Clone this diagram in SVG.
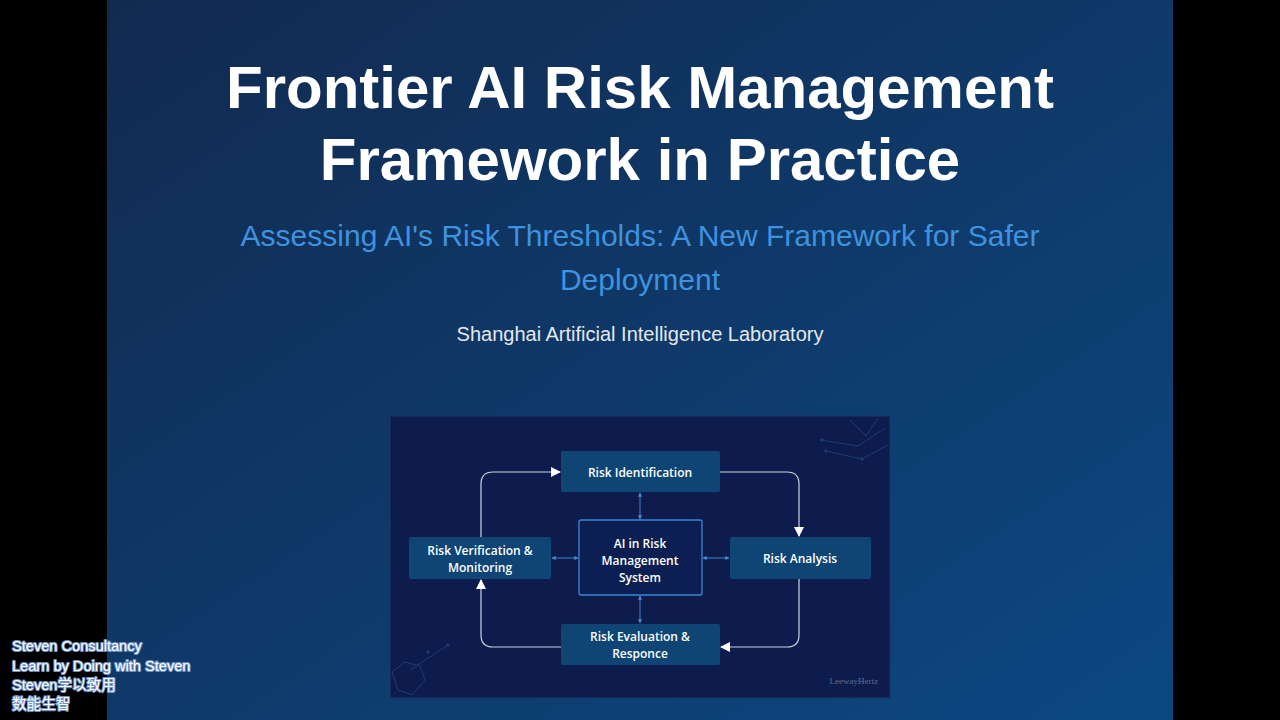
<svg xmlns="http://www.w3.org/2000/svg" width="1280" height="720" viewBox="0 0 1280 720">
  <defs>
    <linearGradient id="slideBg" x1="0" y1="0" x2="1" y2="1">
      <stop offset="0" stop-color="#122a50"/>
      <stop offset="1" stop-color="#0b4882"/>
    </linearGradient>
    <marker id="tri" viewBox="0 0 10 10" refX="9" refY="5" markerWidth="10" markerHeight="10" markerUnits="userSpaceOnUse" orient="auto">
      <path d="M0,0 L10,5 L0,10 Z" fill="#ffffff"/>
    </marker>
    <marker id="small" viewBox="0 0 6 6" refX="5.5" refY="3" markerWidth="4" markerHeight="4" markerUnits="userSpaceOnUse" orient="auto-start-reverse">
      <path d="M0,0 L6,3 L0,6 Z" fill="#4a8fd6"/>
    </marker>
    <style>
      .title { font-family: "Liberation Sans", Arial, sans-serif; font-weight: bold; font-size: 60px; fill: #ffffff; }
      .sub { font-family: "Liberation Sans", Arial, sans-serif; font-size: 30px; fill: #3e92de; }
      .org { font-family: "Liberation Sans", Arial, sans-serif; font-size: 20px; fill: #e3e8ef; }
      .node { fill: #0e4574; }
      .center { fill: #0c1f52; stroke: #3a86d4; stroke-width: 1.3; }
      .ntext { font-family: "Open Sans", "Noto Sans", sans-serif; font-weight: 600; font-size: 12px; fill: #ffffff; text-anchor: middle; }
      .flow { fill: none; stroke: #c9d2e3; stroke-width: 1.2; }
      .link { fill: none; stroke: #3f82c8; stroke-width: 1; }
      .wm { font-family: "Liberation Sans", Arial, "Noto Sans CJK SC", sans-serif; font-size: 14.6px; fill: #ffffff; stroke: #6d8fc4; stroke-width: 2.2; paint-order: stroke; stroke-linejoin: round; }
      .deco { fill: none; stroke: #2b4a86; stroke-width: 1; opacity: 0.7; }
    </style>
  </defs>

  <rect x="0" y="0" width="1280" height="720" fill="#000000"/>
  <rect x="107" y="0" width="1066" height="720" fill="url(#slideBg)"/>

  <g id="titles">
    <text class="title" x="640" y="108" text-anchor="middle">Frontier AI Risk Management</text>
    <text class="title" x="640" y="180" text-anchor="middle">Framework in Practice</text>
    <text class="sub" x="640" y="246" text-anchor="middle">Assessing AI's Risk Thresholds: A New Framework for Safer</text>
    <text class="sub" x="640" y="290" text-anchor="middle">Deployment</text>
    <text class="org" x="640" y="341" text-anchor="middle">Shanghai Artificial Intelligence Laboratory</text>
  </g>

  <g id="image-panel">
    <rect x="390" y="416" width="500" height="282" fill="#0d1c4c" stroke="#1d3566" stroke-width="1"/>
    <g class="deco">
      <path d="M820,440 L858,446 L885,428 M826,451 L862,459 L888,445 M850,420 L866,436 L878,418"/>
      <circle cx="822" cy="440" r="1.2" fill="#2b4a86"/>
      <circle cx="826" cy="451" r="1.2" fill="#2b4a86"/>
      <circle cx="862" cy="459" r="1.2" fill="#2b4a86"/>
      <path d="M392,672 L405,662 L420,666 L425,680 L412,695 L398,690 Z M410,670 L448,645"/>
      <circle cx="448" cy="645" r="1.2" fill="#2b4a86"/>
      <circle cx="428" cy="652" r="1.2" fill="#2b4a86"/>
    </g>
    <text x="878" y="684" text-anchor="end" font-family="Liberation Serif, serif" font-size="9" fill="#5e6e98">LeewayHertz</text>
  </g>

  <g id="connectors">
    <path class="flow" d="M481,537 L481,484 Q481,472 493,472 L560,472" marker-end="url(#tri)"/>
    <path class="flow" d="M720,472 L787,472 Q799,472 799,484 L799,536" marker-end="url(#tri)"/>
    <path class="flow" d="M799,579 L799,635 Q799,647 787,647 L721,647" marker-end="url(#tri)"/>
    <path class="flow" d="M561,647 L493,647 Q481,647 481,635 L481,580" marker-end="url(#tri)"/>
    <path class="link" d="M640,493 L640,519" marker-start="url(#small)" marker-end="url(#small)"/>
    <path class="link" d="M640,596 L640,623" marker-start="url(#small)" marker-end="url(#small)"/>
    <path class="link" d="M552,558 L578,558" marker-start="url(#small)" marker-end="url(#small)"/>
    <path class="link" d="M703,558 L729,558" marker-start="url(#small)" marker-end="url(#small)"/>
  </g>

  <g id="node-identification">
    <rect class="node" x="561" y="451" width="159" height="41" rx="2"/>
    <text class="ntext" x="640" y="477">Risk Identification</text>
  </g>
  <g id="node-analysis">
    <rect class="node" x="730" y="537" width="141" height="42" rx="2"/>
    <text class="ntext" x="800" y="563">Risk Analysis</text>
  </g>
  <g id="node-evaluation">
    <rect class="node" x="561" y="624" width="159" height="41" rx="2"/>
    <text class="ntext" x="640" y="641">Risk Evaluation &amp;</text>
    <text class="ntext" x="640" y="658">Responce</text>
  </g>
  <g id="node-verification">
    <rect class="node" x="409" y="537" width="142" height="42" rx="2"/>
    <text class="ntext" x="480" y="555">Risk Verification &amp;</text>
    <text class="ntext" x="480" y="572">Monitoring</text>
  </g>
  <g id="node-center">
    <rect class="center" x="579" y="520" width="123" height="75" rx="2"/>
    <text class="ntext" x="640" y="548" font-weight="500">AI in Risk</text>
    <text class="ntext" x="640" y="565" font-weight="500">Management</text>
    <text class="ntext" x="640" y="582" font-weight="500">System</text>
  </g>

  <g id="watermark">
    <text class="wm" x="12" y="651">Steven Consultancy</text>
    <text class="wm" x="12" y="671">Learn by Doing with Steven</text>
    <text class="wm" x="12" y="690">Steven学以致用</text>
    <text class="wm" x="12" y="709">数能生智</text>
  </g>
</svg>
